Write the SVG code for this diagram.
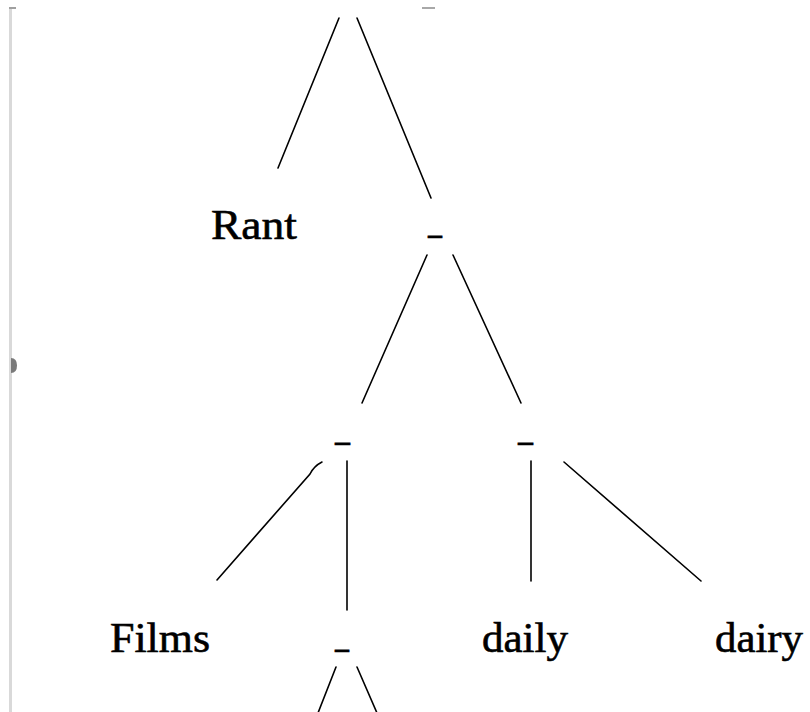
<svg xmlns="http://www.w3.org/2000/svg" width="810" height="712" viewBox="0 0 810 712">
<style>
.lbl{font-family:"Liberation Serif","Times New Roman",serif;font-size:42px;fill:#000;stroke:#000;stroke-width:0.6}
.us{font-family:"Liberation Serif","Times New Roman",serif;font-size:42px;fill:#000;stroke:#000;stroke-width:0.6}
.edge{stroke:#000;stroke-width:1.6;fill:none;stroke-linecap:round}
</style>
<rect width="810" height="712" fill="#fff"/>
<g id="frame">
<rect x="9" y="8" width="3" height="704" fill="#d9d9d9"/>
<rect x="9" y="7" width="7" height="2" fill="#a0a0a0"/>
<path d="M11 358 Q17 358 17 365.5 Q17 373 11 373 Z" fill="#7a7a7a"/>
<rect x="422" y="7" width="13" height="2" fill="#a8a8a8"/>
</g>
<g id="connectors">
<line class="edge" x1="339" y1="18" x2="278" y2="168"/>
<line class="edge" x1="357" y1="18" x2="431" y2="198"/>
<line class="edge" x1="427" y1="255" x2="362" y2="403"/>
<line class="edge" x1="453" y1="255" x2="521" y2="403"/>
<path class="edge" d="M322 462 Q314 466 310 474 L217 580"/>
<line class="edge" x1="347" y1="461" x2="347" y2="610"/>
<line class="edge" x1="531" y1="461" x2="531" y2="581"/>
<line class="edge" x1="564" y1="462" x2="701" y2="581"/>
<line class="edge" x1="336" y1="667" x2="318" y2="713"/>
<line class="edge" x1="357" y1="667" x2="377" y2="713"/>
</g>
<g id="node-rant"><text class="lbl" x="211" y="239" textLength="86" lengthAdjust="spacingAndGlyphs">Rant</text></g>
<g id="node-n1"><text class="us" x="428" y="233" textLength="14" lengthAdjust="spacingAndGlyphs">_</text></g>
<g id="node-n2"><text class="us" x="335" y="440" textLength="15" lengthAdjust="spacingAndGlyphs">_</text></g>
<g id="node-n3"><text class="us" x="518" y="440" textLength="15" lengthAdjust="spacingAndGlyphs">_</text></g>
<g id="node-films"><text class="lbl" x="110" y="652" textLength="100" lengthAdjust="spacingAndGlyphs">Films</text></g>
<g id="node-n4"><text class="us" x="335" y="647" textLength="14" lengthAdjust="spacingAndGlyphs">_</text></g>
<g id="node-daily"><text class="lbl" x="482" y="652" textLength="86" lengthAdjust="spacingAndGlyphs">daily</text></g>
<g id="node-dairy"><text class="lbl" x="715" y="652" textLength="88" lengthAdjust="spacingAndGlyphs">dairy</text></g>
</svg>
